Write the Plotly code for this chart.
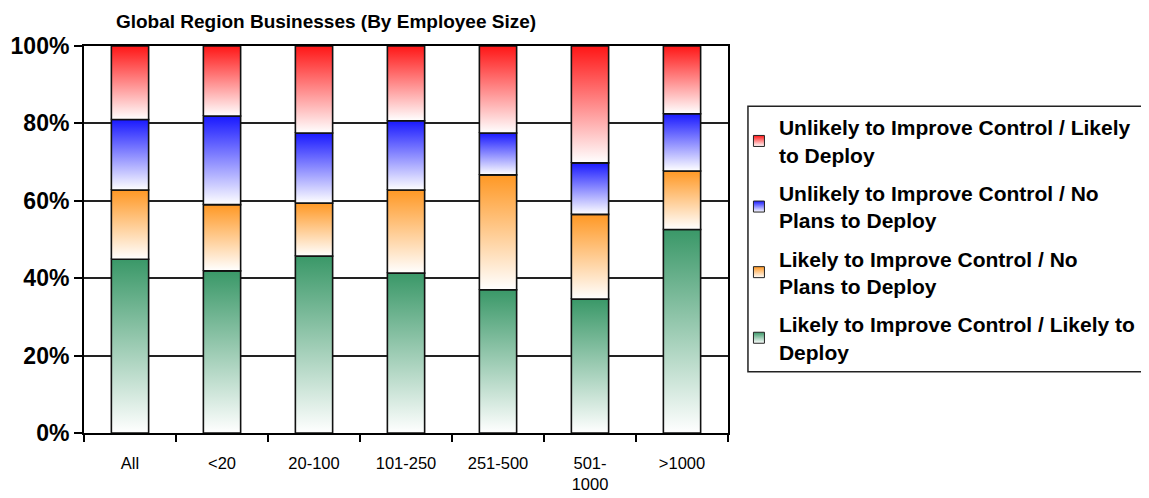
import plotly.graph_objects as go

# ---- data (percent of businesses) ----
categories = ["All", "<20", "20-100", "101-250", "251-500", "501-<br>1000", ">1000"]
likely_likely = [44.9, 41.9, 45.7, 41.3, 37.0, 34.6, 52.6]      # green
likely_noplans = [17.9, 17.1, 13.7, 21.5, 29.7, 21.9, 15.1]     # orange
unlikely_noplans = [18.2, 22.9, 18.1, 17.9, 10.8, 13.3, 14.8]   # blue
unlikely_likely = [19.0, 18.1, 22.5, 19.3, 22.5, 30.2, 17.5]    # red

series_names = [
    "Likely to Improve Control / Likely to<br>Deploy",
    "Likely to Improve Control / No<br>Plans to Deploy",
    "Unlikely to Improve Control / No<br>Plans to Deploy",
    "Unlikely to Improve Control / Likely<br>to Deploy",
]
series_values = [likely_likely, likely_noplans, unlikely_noplans, unlikely_likely]
series_colors = ["rgb(58,152,104)", "rgb(255,152,36)", "rgb(25,25,255)", "rgb(255,22,22)"]

FONT = "Liberation Sans, Arial, sans-serif"
BAR_HALF = 0.2025

# page body has an 8px margin, so the figure is 8px smaller on each axis
W, H = 1141, 490
L, R, T, B = 76, 421, 38, 65

fig = go.Figure()

cum = [0.0] * len(categories)
for name, vals, col in zip(series_names, series_values, series_colors):
    for i, v in enumerate(vals):
        c = i + 0.5
        b = cum[i]
        t = b + v
        fig.add_trace(go.Scatter(
            x=[c - BAR_HALF, c + BAR_HALF, c + BAR_HALF, c - BAR_HALF, c - BAR_HALF],
            y=[b, b, t, t, b],
            mode="lines",
            fill="toself",
            fillgradient=dict(type="vertical",
                              colorscale=[[0, "rgb(255,255,255)"], [1, col]]),
            line=dict(color="#111111", width=1.6),
            showlegend=False,
            hoverinfo="skip",
        ))
        cum[i] = t

# legend-only entries (top to bottom: red, blue, orange, green)
for name, col in list(zip(series_names, series_colors))[::-1]:
    fig.add_trace(go.Scatter(
        x=[None], y=[None],
        mode="markers",
        name=name,
        legendgroup=name,
        marker=dict(symbol="square", size=11, color=col,
                    gradient=dict(type="vertical", color="white"),
                    line=dict(color="#222222", width=1)),
    ))

# legend frame (extends past the right edge, as in the original)
fig.add_shape(type="rect", xref="paper", yref="paper",
              x0=1.031, x1=1.75, y0=0.158, y1=0.8444,
              line=dict(color="#222222", width=1.5), fillcolor="rgba(0,0,0,0)",
              layer="above")

fig.update_layout(
    width=W, height=H,
    margin=dict(l=L, r=R, t=T, b=B, autoexpand=False),
    paper_bgcolor="white",
    plot_bgcolor="white",
    font=dict(family=FONT, color="black"),
    title=dict(
        text="<b>Global Region Businesses (By Employee Size)</b>",
        font=dict(family=FONT, size=19, color="black"),
        x=318 / W, xref="container", xanchor="center",
        y=1 - 13 / H, yref="container", yanchor="middle",
    ),
    legend=dict(
        x=1.017, xanchor="left",
        y=0.842, yanchor="top",
        borderwidth=0,
        bgcolor="rgba(0,0,0,0)",
        font=dict(family=FONT, size=21, color="black", weight="bold"),
        traceorder="grouped",
        tracegroupgap=8,
        itemwidth=30,
    ),
    xaxis=dict(
        range=[0, len(categories)],
        tickmode="array",
        tickvals=[i + 0.5 for i in range(len(categories))],
        ticktext=categories,
        ticks="",
        tickfont=dict(family=FONT, size=16.5, color="black"),
        ticklabelstandoff=14,
        showgrid=False,
        zeroline=False,
        automargin=False,
        showline=True, linecolor="black", linewidth=2, mirror=True,
        minor=dict(tickmode="array",
                   tickvals=list(range(len(categories) + 1)),
                   ticks="outside", ticklen=7, tickwidth=1.5, tickcolor="black",
                   showgrid=False),
        fixedrange=True,
    ),
    yaxis=dict(
        range=[0, 100],
        tickmode="array",
        tickvals=[0, 20, 40, 60, 80, 100],
        ticktext=["0%", "20%", "40%", "60%", "80%", "100%"],
        ticks="outside", ticklen=8, tickwidth=1.5, tickcolor="black",
        tickfont=dict(family=FONT, size=23, color="black", weight="bold"),
        showgrid=True, gridcolor="#222222", gridwidth=1.5,
        zeroline=False,
        automargin=False,
        showline=True, linecolor="black", linewidth=2, mirror=True,
        fixedrange=True,
    ),
)

fig.write_html("out.html")
